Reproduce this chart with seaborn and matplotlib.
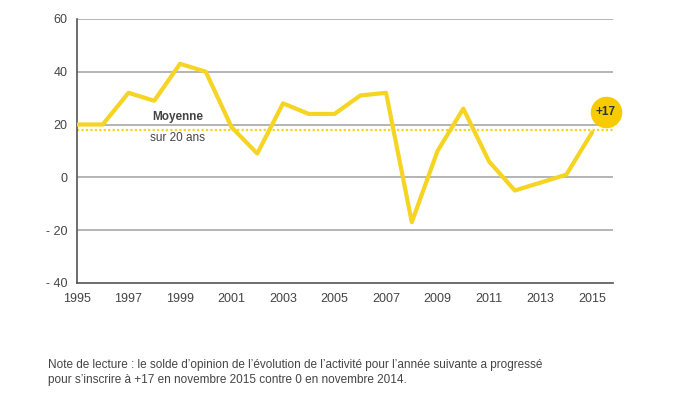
import matplotlib
matplotlib.use("Agg")
import matplotlib.pyplot as plt
import seaborn as sns
import pandas as pd

# Solde d'opinion sur l'activité de l'année suivante (1995-2015)
years = list(range(1995, 2016))
values = [20, 20, 32, 29, 43, 40, 19, 9, 28, 24, 24, 31, 32, -17, 10, 26, 6, -5, -2, 1, 17]
average_20y = 18
last_label = "+17"

y_ticks = [-40, -20, 0, 20, 40, 60]
y_tick_labels = ["- 40", "- 20", "0", "20", "40", "60"]
x_ticks = list(range(1995, 2016, 2))

note = ("Note de lecture : le solde d\u2019opinion de l\u2019évolution de l\u2019activité pour l\u2019année suivante a progressé\n"
        "pour s\u2019inscrire à +17 en novembre 2015 contre 0 en novembre 2014.")

yellow = "#F5D422"
gold = "#F7CB00"
text_grey = "#444444"

df = pd.DataFrame({"year": years, "value": values})

sns.set_theme(style="white")
plt.rcParams["font.family"] = ["Liberation Sans", "DejaVu Sans"]

fig = plt.figure(figsize=(7, 3.94), dpi=100)
ax = fig.add_axes([0.11, 0.282, 0.766, 0.670])

# grid lines
for yv in y_ticks[1:]:
    ax.axhline(yv, color="#a0a0a0", lw=1.1, zorder=1)

ax.axhline(average_20y, color=yellow, lw=1.6, ls=(0, (1, 1)), zorder=2)

sns.lineplot(data=df, x="year", y="value", color=yellow, lw=3, ax=ax, zorder=3)

ax.set_xlim(1995, 2015.82)
ax.set_ylim(-40, 60)
ax.set_xticks(x_ticks)
ax.set_xticklabels([str(x) for x in x_ticks], fontsize=9, color=text_grey)
ax.set_yticks(y_ticks)
ax.set_yticklabels(y_tick_labels, fontsize=9, color=text_grey)
ax.set_xlabel("")
ax.set_ylabel("")

for side in ["top", "right"]:
    ax.spines[side].set_visible(False)
for side in ["left", "bottom"]:
    ax.spines[side].set_color("#555555")
    ax.spines[side].set_linewidth(1.2)
ax.tick_params(axis="x", direction="out", length=4, width=1.3, color="#333333", pad=3)
ax.tick_params(axis="y", length=0, pad=7)

ax.text(1998.9, 22.8, "Moyenne", fontsize=8.5, color=text_grey, ha="center", va="center",
        fontweight="bold", zorder=4)
ax.text(1998.9, 14.7, "sur 20 ans", fontsize=8.5, color=text_grey, ha="center", va="center", zorder=4)

# pastille finale
ax.scatter([years[-1] + 0.54], [values[-1] + 7.8], s=470, color=gold, zorder=5, clip_on=False)
ax.text(years[-1] + 0.54, values[-1] + 7.8, last_label, fontsize=8.5, fontweight="bold",
        color="#333333", ha="center", va="center", zorder=6)

fig.text(0.069, 0.02, note, fontsize=8.5, color=text_grey, ha="left", va="bottom", linespacing=1.4)

fig.savefig("out.png", dpi=100)
